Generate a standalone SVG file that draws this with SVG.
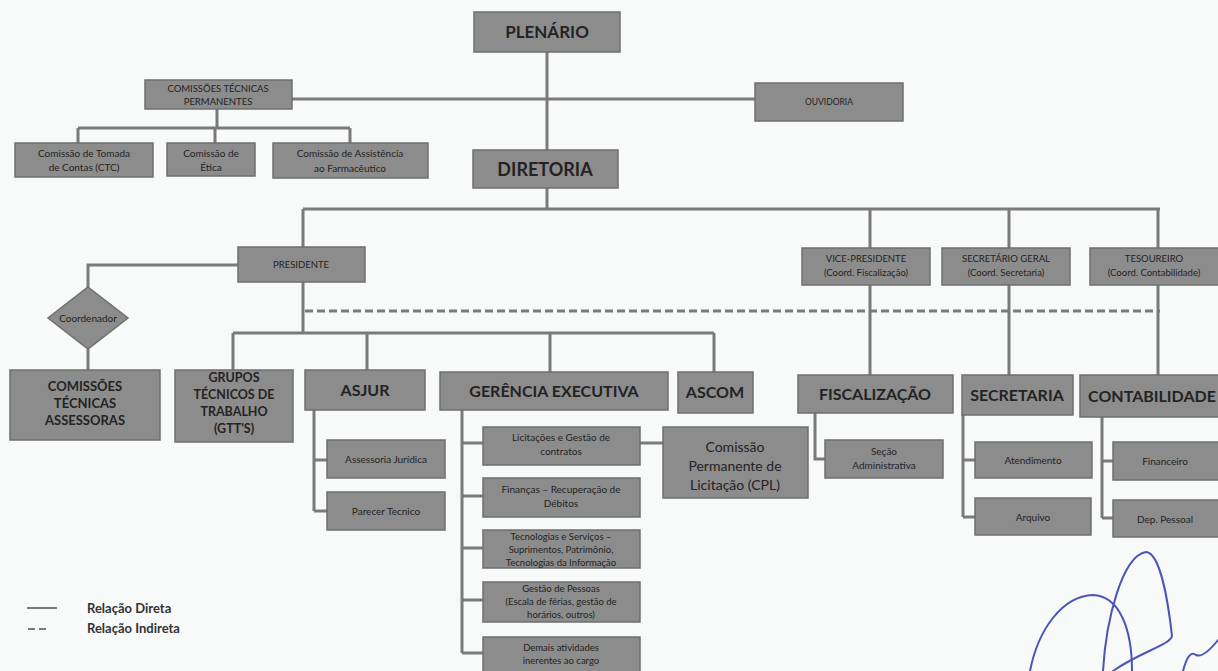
<svg xmlns="http://www.w3.org/2000/svg" width="1218" height="671" viewBox="0 0 1218 671">
<style>
.bx{fill:#8c8c8c;stroke:#6f6f6f;stroke-width:1.5}
.t{font-family:Lato,"Open Sans","Liberation Sans",sans-serif;fill:#232323;text-anchor:middle}
.s{font-size:10px}
.xs{font-size:9.5px}
.b{font-weight:bold}
.c{fill:none;stroke:#7a7a7a;stroke-width:3}
.d{fill:none;stroke:#7a7a7a;stroke-width:3;stroke-dasharray:8 4}
.sig{fill:none;stroke:#4b55b5;stroke-width:2;stroke-linecap:round}
</style>
<rect width="1218" height="671" fill="#f8f9f9"/>
<g id="connectors">
<path class="c" d="M547 52V150M292 99H755M217 109V128M78 128H350M78 128V143M215 128V143M350 128V143"/>
<path class="c" d="M547 188V209M303 209H1160M303 209V247M870 209V248M1009 209V248M1158 209V248"/>
<path class="c" d="M303 282V333M233 333H714M233 333V370M367 333V370M550 333V372M714 333V372"/>
<path class="c" d="M238 265H88V287M88 349V370"/>
<path class="d" d="M305 311H1160"/>
<path class="c" d="M870 285V375M1009 285V375M1158 285V375"/>
<path class="c" d="M314 410V511M314 460H327M314 511H327"/>
<path class="c" d="M462 410V653M462 443H483M462 496H483M462 548H483M462 600H483M462 653H483M640 443H663"/>
<path class="c" d="M815 413V459H825"/>
<path class="c" d="M963 413V517M963 460H975M963 517H975"/>
<path class="c" d="M1102 417V518M1102 461H1113M1102 518H1113"/>
</g>
<g id="plenario"><rect class="bx" x="474" y="12" width="146" height="40"/><text class="t b" x="547" y="38" font-size="17">PLENÁRIO</text></g>
<g id="ctp"><rect class="bx" x="145" y="80" width="147" height="29"/><text class="t xs" x="218" y="92">COMISSÕES TÉCNICAS</text><text class="t xs" x="218" y="105">PERMANENTES</text></g>
<g id="ouvidoria"><rect class="bx" x="755" y="83" width="148" height="38"/><text class="t" x="829" y="105" font-size="8.5">OUVIDORIA</text></g>
<g id="ctc"><rect class="bx" x="15" y="143" width="138" height="34"/><text class="t s" x="84" y="157">Comissão de Tomada</text><text class="t s" x="84" y="171">de Contas (CTC)</text></g>
<g id="etica"><rect class="bx" x="167" y="143" width="88" height="33"/><text class="t s" x="211" y="157">Comissão de</text><text class="t s" x="211" y="171">Ética</text></g>
<g id="caf"><rect class="bx" x="273" y="143" width="155" height="35"/><text class="t s" x="350" y="157">Comissão de Assistência</text><text class="t s" x="350" y="172">ao Farmacêutico</text></g>
<g id="diretoria"><rect class="bx" x="473" y="150" width="145" height="38"/><text class="t b" x="545" y="176" font-size="18">DIRETORIA</text></g>
<g id="presidente"><rect class="bx" x="238" y="247" width="127" height="35"/><text class="t xs" x="301" y="268">PRESIDENTE</text></g>
<g id="vice"><rect class="bx" x="802" y="248" width="128" height="37"/><text class="t xs" x="866" y="262">VICE-PRESIDENTE</text><text class="t xs" x="866" y="276">(Coord. Fiscalização)</text></g>
<g id="secgeral"><rect class="bx" x="942" y="248" width="128" height="37"/><text class="t xs" x="1006" y="262">SECRETÁRIO GERAL</text><text class="t xs" x="1006" y="276">(Coord. Secretaria)</text></g>
<g id="tesoureiro"><rect class="bx" x="1090" y="248" width="132" height="37"/><text class="t xs" x="1154" y="262">TESOUREIRO</text><text class="t xs" x="1154" y="276">(Coord. Contabilidade)</text></g>
<g id="coordenador"><polygon class="bx" points="88,287 128,318 88,349 48,318"/><text class="t s" x="88" y="322">Coordenador</text></g>
<g id="cta"><rect class="bx" x="10" y="370" width="150" height="70"/><text class="t b" x="85" y="391" font-size="13">COMISSÕES</text><text class="t b" x="85" y="408" font-size="13">TÉCNICAS</text><text class="t b" x="85" y="425" font-size="13">ASSESSORAS</text></g>
<g id="gtt"><rect class="bx" x="175" y="370" width="118" height="72"/><text class="t b" x="234" y="382" font-size="12.5">GRUPOS</text><text class="t b" x="234" y="399" font-size="12.5">TÉCNICOS DE</text><text class="t b" x="234" y="416" font-size="12.5">TRABALHO</text><text class="t b" x="234" y="433" font-size="12.5">(GTT'S)</text></g>
<g id="asjur"><rect class="bx" x="305" y="370" width="120" height="40"/><text class="t b" x="365" y="396" font-size="16">ASJUR</text></g>
<g id="gerencia"><rect class="bx" x="440" y="372" width="228" height="38"/><text class="t b" x="554" y="397" font-size="16">GERÊNCIA EXECUTIVA</text></g>
<g id="ascom"><rect class="bx" x="678" y="372" width="75" height="41"/><text class="t b" x="715" y="398" font-size="16">ASCOM</text></g>
<g id="fiscalizacao"><rect class="bx" x="798" y="375" width="155" height="38"/><text class="t b" x="875" y="400" font-size="16">FISCALIZAÇÃO</text></g>
<g id="secretaria"><rect class="bx" x="962" y="375" width="111" height="40"/><text class="t b" x="1017" y="401" font-size="16">SECRETARIA</text></g>
<g id="contabilidade"><rect class="bx" x="1080" y="375" width="142" height="42"/><text class="t b" x="1152" y="402" font-size="16">CONTABILIDADE</text></g>
<g id="assessoria"><rect class="bx" x="327" y="440" width="118" height="38"/><text class="t s" x="386" y="463">Assessoria Jurídica</text></g>
<g id="parecer"><rect class="bx" x="327" y="492" width="118" height="38"/><text class="t s" x="386" y="515">Parecer Tecnico</text></g>
<g id="licitacoes"><rect class="bx" x="483" y="427" width="157" height="38"/><text class="t s" x="561" y="441">Licitações e Gestão de</text><text class="t s" x="561" y="455">contratos</text></g>
<g id="financas"><rect class="bx" x="483" y="478" width="157" height="39"/><text class="t s" x="561" y="493">Finanças – Recuperação de</text><text class="t s" x="561" y="507">Débitos</text></g>
<g id="tecnologias"><rect class="bx" x="483" y="530" width="157" height="38"/><text class="t xs" x="561" y="540">Tecnologias e Serviços –</text><text class="t xs" x="561" y="553">Suprimentos, Patrimônio,</text><text class="t xs" x="561" y="566">Tecnologias da Informação</text></g>
<g id="pessoas"><rect class="bx" x="483" y="582" width="157" height="40"/><text class="t xs" x="561" y="592">Gestão de Pessoas</text><text class="t xs" x="561" y="605">(Escala de férias, gestão de</text><text class="t xs" x="561" y="618">horários, outros)</text></g>
<g id="demais"><rect class="bx" x="483" y="637" width="157" height="40"/><text class="t xs" x="561" y="651">Demais atividades</text><text class="t xs" x="561" y="664">inerentes ao cargo</text></g>
<g id="cpl"><rect class="bx" x="663" y="427" width="145" height="71"/><text class="t" x="735" y="452" font-size="14">Comissão</text><text class="t" x="735" y="471" font-size="14">Permanente de</text><text class="t" x="735" y="490" font-size="14">Licitação (CPL)</text></g>
<g id="secao"><rect class="bx" x="825" y="440" width="118" height="38"/><text class="t s" x="884" y="455">Seção</text><text class="t s" x="884" y="469">Administrativa</text></g>
<g id="atendimento"><rect class="bx" x="975" y="442" width="117" height="36"/><text class="t s" x="1033" y="464">Atendimento</text></g>
<g id="arquivo"><rect class="bx" x="975" y="498" width="116" height="37"/><text class="t s" x="1033" y="521">Arquivo</text></g>
<g id="financeiro"><rect class="bx" x="1113" y="442" width="109" height="38"/><text class="t s" x="1165" y="465">Financeiro</text></g>
<g id="deppessoal"><rect class="bx" x="1113" y="500" width="109" height="37"/><text class="t s" x="1165" y="523">Dep. Pessoal</text></g>
<g id="legend">
<line x1="27" y1="608" x2="57" y2="608" stroke="#7a7a7a" stroke-width="2"/>
<line x1="28" y1="629" x2="50" y2="629" stroke="#7a7a7a" stroke-width="2" stroke-dasharray="7 4"/>
<text x="87" y="613" font-family="Lato,'Open Sans','Liberation Sans',sans-serif" font-size="13" font-weight="bold" fill="#333">Relação Direta</text>
<text x="87" y="633" font-family="Lato,'Open Sans','Liberation Sans',sans-serif" font-size="13" font-weight="bold" fill="#333">Relação Indireta</text>
</g>
<g id="signature">
<path class="sig" d="M1030 671C1038 630 1062 596 1093 595C1120 596 1132 630 1132 671"/>
<path class="sig" d="M1103 671C1106 620 1122 556 1146 552C1160 553 1168 600 1172 636C1170 645 1140 652 1113 671"/>
<path class="sig" d="M1183 671C1186 660 1190 650 1196 655C1202 658 1210 650 1218 640"/>
</g>
</svg>
